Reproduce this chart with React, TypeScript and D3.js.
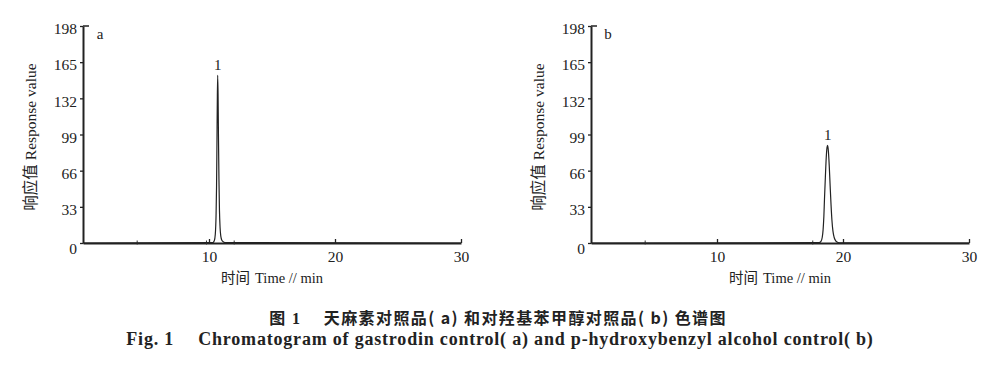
import React, { useEffect, useRef } from "react";
import * as d3 from "d3";

const width = 1000;
const height = 367;
const margin = { top: 26, bottom: 124, left: 83, right: 539 };
const panelShift = 508;

// retention time (min) and detector response
const timeA = [0, 10.3, 10.42, 10.5, 10.56, 10.6, 10.63, 10.66, 10.69, 10.72, 10.75, 10.79, 10.83, 10.88, 10.94, 11.02, 11.15, 11.35, 30];
const valueA = [0, 0.3, 2, 8, 25, 52, 90, 130, 153, 135, 98, 58, 30, 14, 6, 2.5, 1, 0.3, 0];
const timeB = [0, 18.1, 18.25, 18.35, 18.42, 18.48, 18.53, 18.6, 18.67, 18.73, 18.78, 18.84, 18.91, 18.98, 19.05, 19.12, 19.2, 19.3, 19.42, 19.6, 19.8, 30];
const valueB = [0, 0.3, 1.5, 5, 12, 24, 40, 60, 78, 87, 89, 84, 70, 52, 35, 21, 11, 5, 2, 0.5, 0.1, 0];
// small integration marks on the baseline
const marksA = [4.3, 9.8, 12.0];
const marksB = [4.3, 17.6];

const xTicks = [10, 20, 30];
const yTicks = [0, 33, 66, 99, 132, 165, 198];

const panels = [
  { key: "a", t: timeA, v: valueA, marks: marksA, dx: 0 },
  { key: "b", t: timeB, v: valueB, marks: marksB, dx: panelShift },
];

const serif = "'Liberation Serif', 'DejaVu Serif', serif";
const cjk = "'Noto Sans CJK SC', 'Noto Sans', sans-serif";

function Panel({ p }: { p: typeof panels[0] }) {
  const xRef = useRef<SVGGElement>(null);
  const yRef = useRef<SVGGElement>(null);

  const x = d3.scaleLinear().domain([0, 30]).range([margin.left, 461]);
  const y = d3.scaleLinear().domain([0, 198]).range([height - margin.bottom, margin.top]);
  const y0 = y(0);

  const pts = p.t.map((t, i) => [t, p.v[i]] as [number, number]);
  const line = d3
    .line<[number, number]>()
    .x((d) => x(d[0]))
    .y((d) => y(d[1]))
    .curve(d3.curveMonotoneX)(pts);

  const iMax = p.v.indexOf(d3.max(p.v) as number);

  useEffect(() => {
    const xAxis = d3.axisBottom(x).tickValues(xTicks).tickSizeInner(-4).tickSizeOuter(0).tickPadding(8).tickFormat(d3.format("d"));
    const yAxis = d3.axisLeft(y).tickValues(yTicks).tickSizeInner(3).tickSizeOuter(0).tickPadding(3).tickFormat(d3.format("d"));
    const gx = d3.select(xRef.current!).call(xAxis);
    const gy = d3.select(yRef.current!).call(yAxis);
    [gx, gy].forEach((g) => {
      g.selectAll("text").attr("font-family", serif).attr("font-size", 15.5).attr("fill", "#222");
      g.selectAll("line").attr("stroke", "#222").attr("stroke-width", 1.3);
      g.select(".domain").attr("stroke", "#222").attr("stroke-width", 2);
    });
    gy.selectAll("text").attr("dy", (d: any) => (d === 0 ? "0.7em" : "0.5em"));
  });

  return (
    <g transform={`translate(${p.dx},0)`}>
      <g ref={xRef} transform={`translate(0,${y0})`} />
      <g ref={yRef} transform={`translate(${margin.left},0)`} />
      <line x1={margin.left} x2={margin.left + 6} y1={margin.top} y2={margin.top} stroke="#222" strokeWidth={1.5} />
      {p.marks.map((m) => (
        <line key={m} x1={x(m)} x2={x(m)} y1={y0 - 2.5} y2={y0 + 1.5} stroke="#333" strokeWidth={1} />
      ))}
      <path d={line ?? ""} fill="none" stroke="#222" strokeWidth={1.2} />
      <text x={x(p.t[iMax])} y={y(p.v[iMax]) - 5} textAnchor="middle" fontFamily={serif} fontSize={15} fill="#222">1</text>
      <text x={margin.left + 17} y={39} textAnchor="middle" fontFamily={serif} fontSize={15} fill="#222">{p.key}</text>
      <text x={272} y={283} textAnchor="middle" fontSize={14.5} fill="#222">
        <tspan fontFamily={cjk}>时间</tspan>
        <tspan fontFamily={serif} dx={5}>Time // min</tspan>
      </text>
      <text transform={`translate(36,137) rotate(-90)`} textAnchor="middle" fontSize={15.5} fill="#222">
        <tspan fontFamily={cjk}>响应值</tspan>
        <tspan fontFamily={serif} dx={4}>Response value</tspan>
      </text>
    </g>
  );
}

export default function App() {
  return (
    <svg width={width} height={height} style={{ position: "absolute", left: 0, top: 0, background: "#fff" }}>
      {panels.map((p) => (
        <Panel key={p.key} p={p} />
      ))}
      <text x={498} y={324} textAnchor="middle" fontFamily={cjk} fontWeight="bold" fontSize={16} letterSpacing={1.4} fill="#222">
        图<tspan fontFamily={serif}> 1</tspan>　 天麻素对照品( a) 和对羟基苯甲醇对照品( b) 色谱图
      </text>
      <text x={500} y={345} textAnchor="middle" fontFamily={serif} fontWeight="bold" fontSize={18} letterSpacing={0.8} fill="#222">
        Fig. 1　 Chromatogram of gastrodin control( a) and p-hydroxybenzyl alcohol control( b)
      </text>
    </svg>
  );
}
